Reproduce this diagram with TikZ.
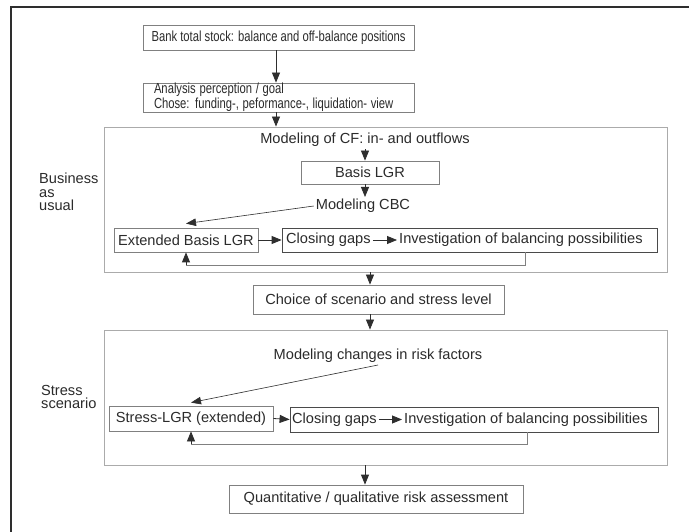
\documentclass[tikz,border=0pt]{standalone}
\usepackage{fontspec}
\usepackage{graphicx}
\setmainfont{Liberation Sans}
\usetikzlibrary{arrows.meta}
\definecolor{txt}{HTML}{2B2B2B}
\definecolor{boxline}{HTML}{808080}
\definecolor{bigline}{HTML}{ABABAB}
\definecolor{darkline}{HTML}{4A4A4A}
\definecolor{frame}{HTML}{2E2E2E}
\newcommand{\narrowtext}[1]{\scalebox{0.77}[1]{#1}}
\tikzset{
  every node/.style={text=txt, font=\fontsize{14.6pt}{13pt}\selectfont},
  stepbox/.style={draw=boxline, line width=0.8pt, inner sep=0pt},
  bigbox/.style={draw=bigline, line width=0.9pt, inner sep=0pt},
  gapbox/.style={draw=darkline, line width=0.8pt, inner sep=0pt},
  plain/.style={inner sep=2pt},
  sidelabel/.style={inner sep=0pt, anchor=base west, text height=10.5pt, text depth=0.3pt},
  conn/.style={draw=frame, line width=0.8pt, -{Triangle[length=10pt,width=8pt]}},
  thinconn/.style={draw=frame, line width=0.6pt, -{Triangle[length=10pt,width=7.5pt]}},
  loopline/.style={draw=boxline, line width=0.8pt}
}
\begin{document}
\begin{tikzpicture}[x=1pt,y=-1pt]
\useasboundingbox (0,0) rectangle (689,532);
\fill[white] (0,0) rectangle (689,532);
% outer frame
\draw[frame, line width=2pt] (11,532) -- (11,7) -- (689,7);

% top boxes
\node[stepbox, minimum width=271pt, minimum height=25pt] (bank) at (278.5,37.5)
  {\narrowtext{Bank total stock: balance and off-balance positions}};
\node[stepbox, minimum width=271pt, minimum height=29pt, text width=249pt, inner xsep=11pt, align=left] (analysis) at (278.5,97.5)
  {\narrowtext{\begin{tabular}{@{}l@{}}Analysis perception / goal\\Chose: funding-, peformance-, liquidation- view\end{tabular}}};

% business as usual
\node[bigbox, minimum width=563pt, minimum height=145pt] (bau) at (385.5,199.5) {};
\node[sidelabel] (bau1) at (39,184) {Business};
\node[sidelabel] (bau2) at (39,197.5) {as};
\node[sidelabel] (bau3) at (39,211) {usual};
\node[plain] (cf) at (365,140) {Modeling of CF: in- and outflows};
\node[stepbox, minimum width=138pt, minimum height=23pt] (basis) at (370,172.5) {Basis LGR};
\node[plain] (cbc) at (363,206) {Modeling CBC};
\node[stepbox, minimum width=144pt, minimum height=24pt] (ext) at (186,240) {Extended Basis LGR};
\node[gapbox, minimum width=375pt, minimum height=24pt] (cg) at (469.5,240) {};
\node[plain, anchor=west] (cgt) at (284,240) {Closing gaps};
\node[plain, anchor=west] (inv) at (397,240) {Investigation of balancing possibilities};
\coordinate (bauloop) at (525,265);

% choice
\node[stepbox, minimum width=251pt, minimum height=29pt] (choice) at (378.5,299.5) {Choice of scenario and stress level};
\coordinate (spine) at (370,0);

% stress scenario
\node[bigbox, minimum width=563pt, minimum height=135pt] (stress) at (385.5,397.5) {};
\node[sidelabel] (st1) at (41,395) {Stress};
\node[sidelabel] (st2) at (41,408.5) {scenario};
\node[plain] (risk) at (378,356) {Modeling changes in risk factors};
\node[stepbox, minimum width=164pt, minimum height=25pt] (sl) at (191,418.5) {Stress-LGR (extended)};
\node[gapbox, minimum width=368pt, minimum height=25pt] (cg2) at (474,419.5) {};
\node[plain, anchor=west] (cgt2) at (290,419.5) {Closing gaps};
\node[plain, anchor=west] (inv2) at (402,419.5) {Investigation of balancing possibilities};
\coordinate (stloop) at (527,444);

% result
\node[stepbox, minimum width=294pt, minimum height=28pt] (quant) at (376,499) {Quantitative / qualitative risk assessment};
\coordinate (spine2) at (365,0);

% connectors
\draw[conn] (bank.south -| 276,0) -- (analysis.north -| 276,0);
\draw[conn] (analysis.south -| 276,0) -- (bau.north -| 276,0);
\draw[conn] (cf.south) -- (cf.south |- basis.north);
\draw[conn] ([xshift=-5pt]basis.south) -- ([xshift=-5pt]basis.south |- cbc.north);
\draw[thinconn] (cbc.west) -- ([yshift=4pt]ext.north);
\draw[conn] (ext.east) -- (cg.west);
\draw[conn] (cgt.east) -- (inv.west);
\draw[loopline] (cg.south -| bauloop) -- (bauloop) -- (bauloop -| ext.south);
\draw[conn] (bauloop -| ext.south) -- (ext.south);

\draw[conn] (bau.south -| spine) -- (choice.north -| spine);
\draw[conn] (choice.south -| spine) -- (stress.north -| spine);
\draw[thinconn] (risk.south) -- ([yshift=3pt]sl.north);
\draw[conn] (sl.east) -- (cg2.west);
\draw[conn] (cgt2.east) -- (inv2.west);
\draw[loopline] (cg2.south -| stloop) -- (stloop) -- (stloop -| sl.south);
\draw[conn] (stloop -| sl.south) -- (sl.south);

\draw[conn] (stress.south -| spine2) -- (quant.north -| spine2);
\end{tikzpicture}
\end{document}
